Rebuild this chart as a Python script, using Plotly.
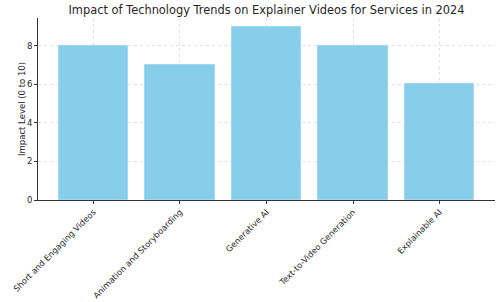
import plotly.graph_objects as go

categories = ["Short and Engaging Videos", "Animation and Storyboarding", "Generative AI",
              "Text-to-Video Generation", "Explainable AI"]
impact = [8, 7, 9, 8, 6]
y_ticks = [0, 2, 4, 6, 8]

fig = go.Figure(go.Bar(x=list(range(len(categories))), y=impact, width=0.8,
                       marker=dict(color="#87CEEB", line=dict(color="#9fd8ef", width=1))))

fig.update_layout(
    width=500, height=302,
    margin=dict(l=38, r=5, t=18, b=102),
    paper_bgcolor="white", plot_bgcolor="white",
    font=dict(family="DejaVu Sans", size=8.5, color="#262626"),
    title=dict(text="Impact of Technology Trends on Explainer Videos for Services in 2024",
               x=0.5, xref="paper", xanchor="center", y=1 - 10/302, yanchor="middle",
               font=dict(size=11.4, color="#262626")),
    bargap=0, showlegend=False,
    annotations=[dict(text="Impact Level (0 to 10)", textangle=-90, xref="paper", yref="paper",
                      x=(22 - 38) / 457, y=0.5, xanchor="center", yanchor="middle",
                      showarrow=False, font=dict(size=8.5, color="#262626"))],
)
fig.update_xaxes(range=[-0.64, 4.64], tickvals=list(range(len(categories))), ticktext=categories,
                 tickangle=-45, showgrid=True, gridcolor="#e2e2e2", griddash="dot", gridwidth=1,
                 showline=True, linecolor="#333", linewidth=1, ticks="outside", ticklen=3,
                 tickcolor="#333", zeroline=False, tickfont=dict(size=8.3), automargin=False)
fig.update_yaxes(range=[0, 9.45], tickvals=y_ticks, showgrid=True, gridcolor="#e2e2e2",
                 griddash="dot", gridwidth=1, showline=True, linecolor="#333", linewidth=1,
                 ticks="outside", ticklen=3, tickcolor="#333", zeroline=False,
                 tickfont=dict(size=8.5), automargin=False)

fig.write_html("out.html")
